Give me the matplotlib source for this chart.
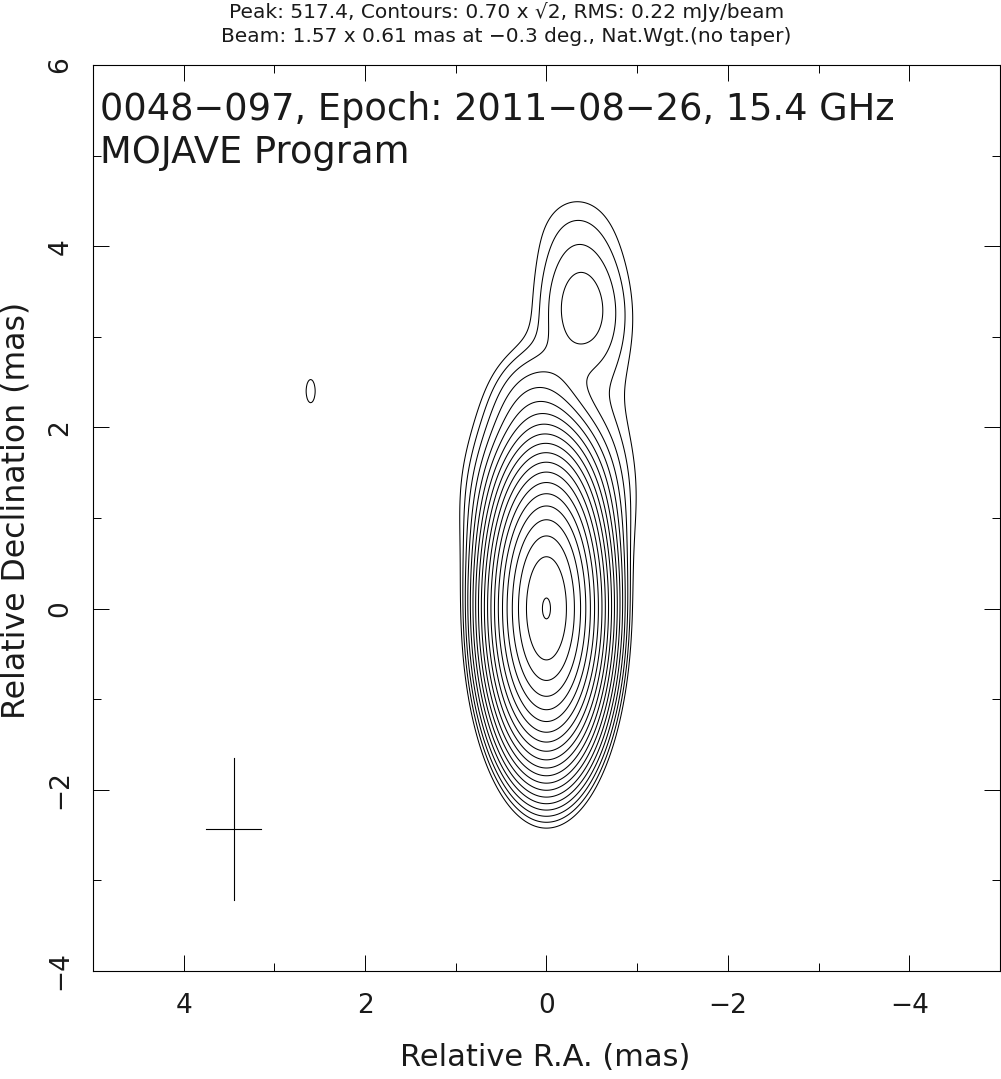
import numpy as np
import matplotlib.pyplot as plt

# map / beam parameters (mas, mJy/beam)
peak = 517.4
base_level = 0.70
beam_maj = 1.57
beam_min = 0.61
beam_center = (3.45, -2.43)

# gaussian components (already convolved), x = RA offset
comp_x = [0.00, 0.00, 0.15, 0.40, -0.36, -0.30, -0.70, 2.60]
comp_y = [0.00, 1.20, 2.30, 1.90, 3.30, 4.20, 2.40, 2.40]
comp_peak = [514.0, 5.0, 1.6, 0.45, 2.12, 0.72, 0.6, 0.713]
comp_sx = [0.259, 0.45, 0.30, 0.35, 0.32, 0.40, 0.30, 0.259]
comp_sy = [0.667, 0.55, 0.40, 0.50, 0.47, 0.45, 1.00, 0.667]

xticks = [4, 2, 0, -2, -4]
yticks = [-4, -2, 0, 2, 4, 6]

title1 = 'Peak: 517.4, Contours: 0.70 x \u221a2, RMS: 0.22 mJy/beam'
title2 = 'Beam: 1.57 x 0.61 mas at \u22120.3 deg., Nat.Wgt.(no taper)'
label1 = '0048\u2212097, Epoch: 2011\u221208\u221226, 15.4 GHz'
label2 = 'MOJAVE Program'

plt.rcParams['font.family'] = ['DejaVu Sans']
plt.rcParams['axes.unicode_minus'] = True
txtcol = '#1a1a1a'

x = np.linspace(5, -5, 801)
y = np.linspace(-4, 6, 801)
X, Y = np.meshgrid(x, y)
Z = np.zeros_like(X)
for cx, cy, cp, sx, sy in zip(comp_x, comp_y, comp_peak, comp_sx, comp_sy):
    Z += cp * np.exp(-0.5 * (((X - cx) / sx) ** 2 + ((Y - cy) / sy) ** 2))

levels = [base_level * np.sqrt(2) ** n for n in range(20)]

fig = plt.figure(figsize=(10.01, 10.79), dpi=100)
ax = fig.add_axes([0.0929, 0.1001, 0.906, 0.8397])
ax.contour(X, Y, Z, levels=levels, colors='black', linewidths=0.75)

# beam cross
bx, by = beam_center
ax.plot([bx, bx], [by - beam_maj / 2, by + beam_maj / 2], color='black', lw=0.8)
ax.plot([bx - beam_min / 2, bx + beam_min / 2], [by, by], color='black', lw=0.8)

ax.set_xlim(5, -5)
ax.set_ylim(-4, 6)
ax.set_xticks(xticks)
ax.set_yticks(yticks)
ax.set_xticks(range(-5, 6), minor=True)
ax.set_yticks(range(-4, 7), minor=True)
ax.tick_params(which='both', direction='in', top=True, right=True, width=0.7,
               labelsize=19, labelcolor=txtcol)
ax.tick_params(axis='x', which='major', pad=16)
ax.tick_params(axis='y', which='major', pad=14)
ax.tick_params(which='major', length=11.5)
ax.tick_params(which='minor', length=5.8)
for lab in ax.get_yticklabels():
    lab.set_rotation(90)
    lab.set_va('center')
for s in ax.spines.values():
    s.set_linewidth(0.8)

fig.text(0.545, 0.0195, 'Relative R.A. (mas)', ha='center', va='center',
         fontsize=22, color=txtcol)
fig.text(0.016, 0.527, 'Relative Declination (mas)', ha='center', va='center',
         rotation=90, fontsize=22.7, color=txtcol)

fig.text(0.506, 1 - 18.5 / 1079, title1, ha='center', va='baseline', fontsize=14.5, color=txtcol)
fig.text(0.506, 1 - 42.0 / 1079, title2, ha='center', va='baseline', fontsize=14.5, color=txtcol)
ax.text(0.0077, 0.9393, label1, transform=ax.transAxes, fontsize=26.5, va='baseline', color=txtcol)
ax.text(0.0077, 0.8918, label2, transform=ax.transAxes, fontsize=26.5, va='baseline', color=txtcol)

fig.savefig('out.png', dpi=100)
